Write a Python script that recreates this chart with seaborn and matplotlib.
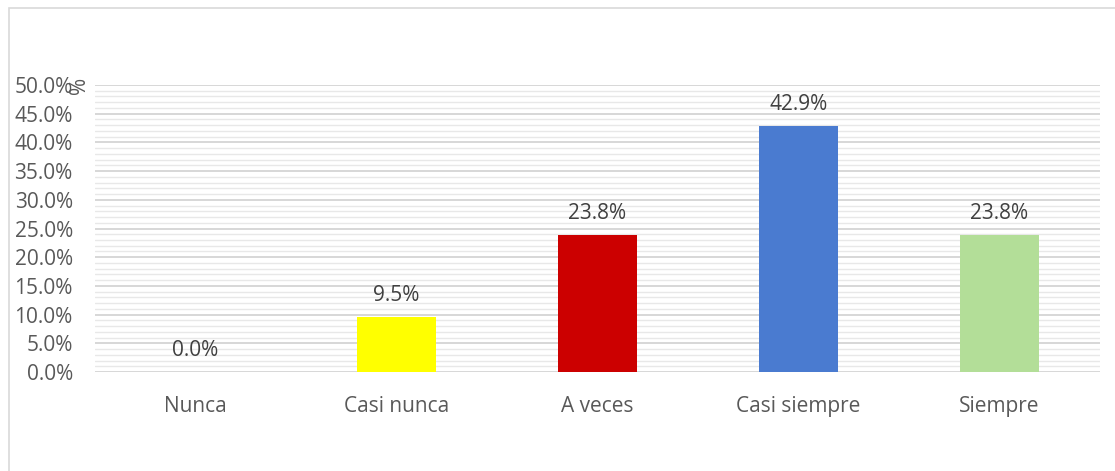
import pandas as pd
import matplotlib.pyplot as plt
import seaborn as sns
from matplotlib.ticker import MultipleLocator, PercentFormatter

# Données
categorias = ["Nunca", "Casi nunca", "A veces", "Casi siempre", "Siempre"]
porcentajes = [0.0, 9.5, 23.8, 42.9, 23.8]
colores = ["#FFFFFF", "#FFFF00", "#CC0000", "#4A7BD0", "#B3DE98"]

df = pd.DataFrame({"cat": categorias, "pct": porcentajes})

sns.set_theme(style="white")
plt.rcParams['font.family'] = ['Open Sans', 'DejaVu Sans']

fig = plt.figure(figsize=(11.15, 4.71), dpi=100, facecolor="white")
# cadre du graphique
fig.patches.append(plt.Rectangle((0.008, -0.01), 0.995, 0.993, transform=fig.transFigure,
                                 fill=False, edgecolor="#D9D9D9", linewidth=1.2))
ax = fig.add_axes([0.0852, 0.2102, 0.9013, 0.6093])

sns.barplot(data=df, x="cat", y="pct", hue="cat", palette=colores, width=0.39,
            legend=False, ax=ax, zorder=3, saturation=1, linewidth=0)

ax.set_ylim(0, 50)
ax.set_xlim(-0.5, 4.5)
ax.yaxis.set_major_locator(MultipleLocator(5))
ax.yaxis.set_minor_locator(MultipleLocator(1))
ax.yaxis.set_major_formatter(PercentFormatter(decimals=1))
ax.grid(axis="y", which="major", color="#D4D4D4", linewidth=1.3, zorder=0)
ax.grid(axis="y", which="minor", color="#E8E8E8", linewidth=1.0, zorder=0)
ax.set_axisbelow(True)
for s in ax.spines.values():
    s.set_visible(False)
ax.axhline(0, color="#D9D9D9", linewidth=1.3, zorder=2)

ax.set_xlabel("")
ax.set_ylabel("")
ax.tick_params(axis="y", which="both", length=0, labelsize=15, labelcolor="#595959", pad=16)
ax.tick_params(axis="x", length=0, labelsize=15, labelcolor="#595959", pad=17)

# étiquettes de valeurs
for i, v in enumerate(porcentajes):
    ax.annotate(f"{v:.1f}%", (i, v), xytext=(0, 8), textcoords="offset points",
                ha="center", va="bottom", fontsize=15, color="#404040")

# titre d'axe "%"
ax.text(-0.015, 1.0, "%", transform=ax.transAxes, rotation=90, ha="center", va="center",
        fontsize=15, color="#595959")

plt.savefig("out.png", dpi=100, facecolor="white")
